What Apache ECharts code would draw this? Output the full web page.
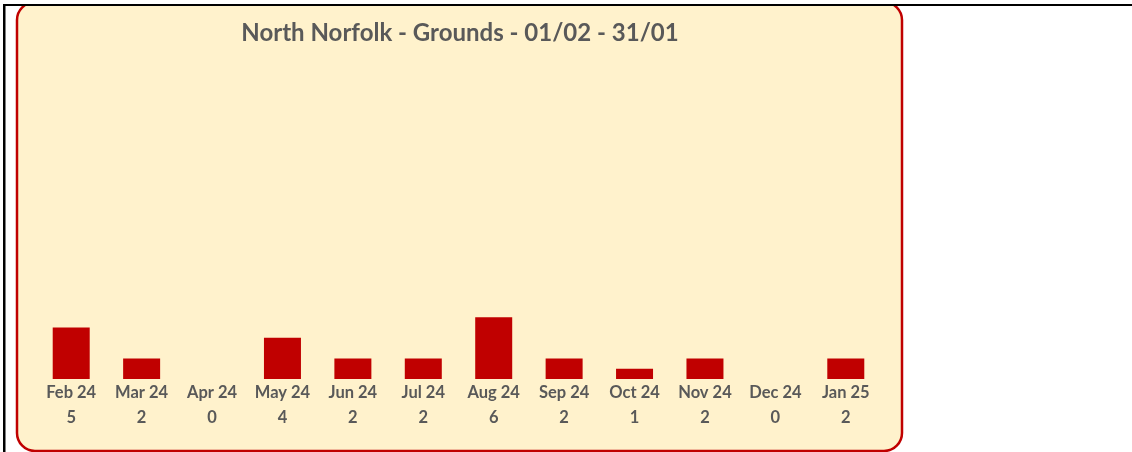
<!DOCTYPE html>
<html>
<head>
<meta charset="utf-8">
<script src="https://cdn.jsdelivr.net/npm/echarts@6/dist/echarts.min.js"></script>
<style>
  html, body { margin: 0; padding: 0; background: #ffffff; }
  #main { width: 1132px; height: 452px; }
</style>
</head>
<body>
<div id="main"></div>
<script>
var months = ['Feb 24', 'Mar 24', 'Apr 24', 'May 24', 'Jun 24', 'Jul 24', 'Aug 24', 'Sep 24', 'Oct 24', 'Nov 24', 'Dec 24', 'Jan 25'];
var grounds = [5, 2, 0, 4, 2, 2, 6, 2, 1, 2, 0, 2];
var titleText = 'North Norfolk - Grounds - 01/02 - 31/01';

var chartDom = document.getElementById('main');
var myChart = echarts.init(chartDom);
var option;

option = {
    backgroundColor: '#ffffff',
    animation: false,
    // panel and the outer frame lines
    graphic: [
        {
            type: 'rect', z: -10,
            shape: { x: 17, y: 2, width: 885, height: 449, r: 18 },
            style: { fill: '#FFF2CC', stroke: '#C00000', lineWidth: 2.5 }
        },
        { type: 'rect', z: -5, shape: { x: 0, y: 0, width: 1132, height: 4 }, style: { fill: '#ffffff' } },
        { type: 'rect', z: -5, shape: { x: 3, y: 4, width: 1129, height: 2 }, style: { fill: '#000000' } },
        { type: 'rect', z: -5, shape: { x: 3, y: 4, width: 2.5, height: 448 }, style: { fill: '#000000' } }
    ],
    title: {
        text: titleText,
        left: 455,
        textAlign: 'center',
        top: 16,
        textStyle: {
            fontFamily: 'Lato',
            fontWeight: 'bold',
            fontSize: 24,
            color: '#595959'
        }
    },
    grid: {
        left: 36,
        width: 845,
        top: 70,
        bottom: 73
    },
    xAxis: {
        type: 'category',
        data: months,
        axisLine: { show: false },
        axisTick: { show: false },
        axisLabel: {
            interval: 0,
            margin: 1,
            lineHeight: 25,
            fontFamily: 'Lato',
            fontWeight: 'bold',
            fontSize: 16.5,
            color: '#595959',
            formatter: function (value, idx) {
                return value + '\n' + grounds[idx];
            }
        }
    },
    yAxis: {
        type: 'value',
        min: 0,
        max: 30,
        show: false,
        splitLine: { show: false }
    },
    series: [
        {
            name: 'Grounds',
            type: 'bar',
            barWidth: 37,
            itemStyle: { color: '#C00000' },
            data: grounds
        }
    ]
};

option && myChart.setOption(option);
</script>
</body>
</html>
